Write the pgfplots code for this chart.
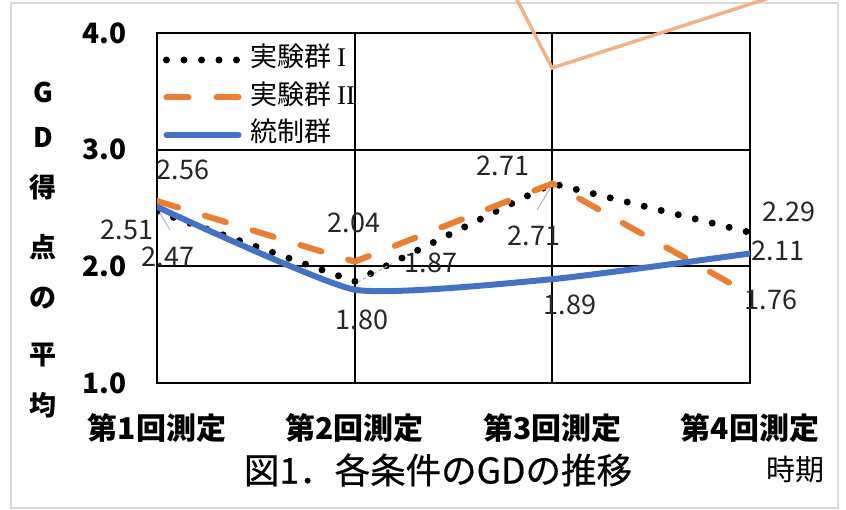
\documentclass[border=0pt]{standalone}
\usepackage{pgfplots}
\pgfplotsset{compat=1.18}
\usepackage{fontspec}
\setmainfont{Noto Sans CJK JP}
\newfontfamily\romfont{Liberation Serif}
\definecolor{exo}{HTML}{ED7D31}
\definecolor{exb}{HTML}{4472C4}
\definecolor{art}{HTML}{F4B183}
\definecolor{frm}{HTML}{D9D9D9}
\begin{document}
\begin{tikzpicture}
\useasboundingbox (0pt,0pt) rectangle (846pt,510pt);
\begin{axis}[
  at={(157pt,127pt)}, anchor=south west,
  scale only axis, width=593pt, height=350pt,
  xmin=0, xmax=3, ymin=1, ymax=4,
  xtick={0,1,2,3},
  xticklabels={第1回測定,第2回測定,第3回測定,第4回測定},
  ytick={1,2,3,4},
  yticklabels={1.0,2.0,3.0,4.0},
  grid=major,
  major grid style={black, line width=1.8pt},
  axis line style={black, line width=1.8pt},
  tick style={draw=none},
  yticklabel style={font=\fontsize{28}{30}\selectfont\bfseries, anchor=east, inner sep=0pt, xshift=-30pt},
  xticklabel style={font=\fontsize{30}{32}\selectfont\bfseries, anchor=center, inner sep=0pt, yshift=-45pt},
  legend image code/.code={\draw[#1] (0pt,0pt) -- (72pt,0pt);},
  legend style={at={(0,1)}, anchor=north west, draw=none, fill=none,
    inner sep=0pt, outer sep=0pt, xshift=6pt, yshift=-14pt, row sep=11.5pt,
    font=\fontsize{27}{30}\selectfont,
    nodes={inner sep=0pt, text height=20pt, text depth=6pt},
    cells={anchor=west}},
  legend cell align=left,
]
\addplot[black, line width=7pt, line cap=round, dash pattern=on 0pt off 17.5pt]
  coordinates {(0,2.47) (1,1.87) (2,2.71) (3,2.29)};
\addlegendentry{\hspace{8pt}実験群 {\romfont I}}
\addplot[exo, line width=6pt, line cap=round, dash pattern=on 22pt off 28pt]
  coordinates {(0,2.56) (1,2.04) (2,2.71) (3,1.76)};
\addlegendentry{\hspace{8pt}実験群 {\romfont II}}
\addplot[exb, line width=6pt, smooth, tension=0.3, line cap=round]
  coordinates {(0,2.51) (1,1.80) (2,1.89) (3,2.11)};
\addlegendentry{\hspace{8pt}統制群}
\end{axis}
\begin{scope}[x=1pt, y=1pt]
\draw[frm, line width=2.5pt] (11,2) rectangle (838,507);
\draw[art, line width=3.5pt] (512,520) -- (552,442) -- (794,520);
% leader lines
\draw[gray!60, line width=1pt] (160,297) -- (170,280);
\draw[gray!60, line width=1pt] (537,300) -- (552,325);
\draw[gray!60, line width=1pt, dashed] (358,228) -- (395,248);
% data labels
\begin{scope}[every node/.style={font=\fontsize{27}{30}\selectfont, text=black!85, inner sep=0pt}]
\node at (183,340) {2.56};
\node at (127,280) {2.51};
\node at (168,253) {2.47};
\node at (354,287) {2.04};
\node at (431,247) {1.87};
\node at (362,190) {1.80};
\node at (503,344) {2.71};
\node at (534,274) {2.71};
\node at (570,205) {1.89};
\node at (789,298) {2.29};
\node at (778,259) {2.11};
\node at (771,210) {1.76};
\end{scope}
% y axis label
\begin{scope}[every node/.style={font=\fontsize{27}{30}\selectfont\bfseries, inner sep=0pt}]
\node at (43,418) {G};
\node at (43,373) {D};
\node at (43,323) {得};
\node at (43,263) {点};
\node at (43,212) {の};
\node at (43,155) {平};
\node at (43,105) {均};
\end{scope}
\node[font=\fontsize{35.5}{38}\selectfont\addfontfeature{FakeBold=0.6}, inner sep=0pt] at (438,40) {図1．各条件のGDの推移};
\node[font=\fontsize{29}{32}\selectfont, inner sep=0pt] at (795,40) {時期};
\end{scope}
\end{tikzpicture}
\end{document}
